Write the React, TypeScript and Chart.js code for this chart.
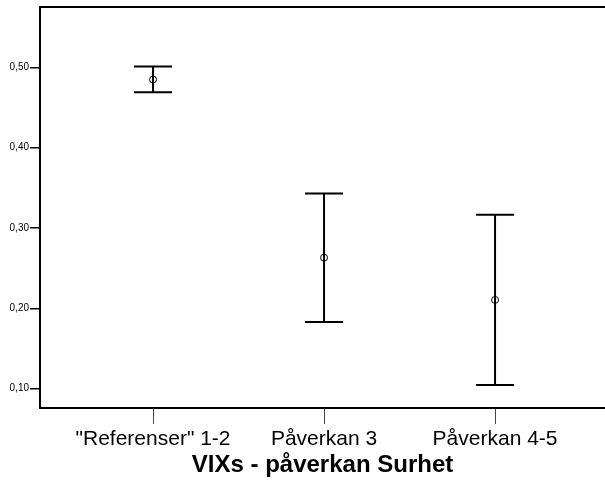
import React, { useEffect, useRef } from "react";
import { Chart, registerables } from "chart.js";

Chart.register(...registerables);

const categories = ['"Referenser" 1-2', "Påverkan 3", "Påverkan 4-5"];
const means = [0.4847, 0.263, 0.2105];
const lowers = [0.469, 0.183, 0.1045];
const uppers = [0.501, 0.343, 0.3166];
const yTicks = [0.1, 0.2, 0.3, 0.4, 0.5];
const xTitle = "VIXs - påverkan Surhet";

const FONT = "Arial, 'Liberation Sans', Helvetica, sans-serif";

export default function App() {
  const ref = useRef<HTMLCanvasElement | null>(null);

  useEffect(() => {
    document.body.style.margin = "0";
    const canvas = ref.current;
    if (!canvas) return;

    const errorBars = {
      id: "errorBars",
      beforeDatasetsDraw(chart: any) {
        const ctx = chart.ctx;
        const xs = chart.scales.x;
        const ys = chart.scales.y;
        ctx.save();
        ctx.strokeStyle = "#000";
        ctx.lineWidth = 2;
        for (let i = 0; i < categories.length; i++) {
          const x = xs.getPixelForValue(i + 1);
          const yl = ys.getPixelForValue(lowers[i]);
          const yu = ys.getPixelForValue(uppers[i]);
          const hw = 19;
          ctx.beginPath();
          ctx.moveTo(x, yl);
          ctx.lineTo(x, yu);
          ctx.moveTo(x - hw, yl);
          ctx.lineTo(x + hw, yl);
          ctx.moveTo(x - hw, yu);
          ctx.lineTo(x + hw, yu);
          ctx.stroke();
        }
        ctx.restore();
      },
      afterDraw(chart: any) {
        const ctx = chart.ctx;
        const a = chart.chartArea;
        ctx.save();
        ctx.strokeStyle = "#000";
        ctx.lineWidth = 2;
        ctx.beginPath();
        ctx.moveTo(a.left - 1, a.top);
        ctx.lineTo(a.right, a.top);
        ctx.stroke();
        ctx.restore();
      },
    };

    const chart = new Chart(canvas, {
      type: "scatter",
      data: {
        datasets: [
          {
            data: means.map((m, i) => ({ x: i + 1, y: m })),
            pointRadius: 3.5,
            pointBorderWidth: 1,
            pointBorderColor: "#000",
            pointBackgroundColor: "rgba(0,0,0,0)",
            showLine: false,
          },
        ],
      },
      options: {
        responsive: false,
        animation: false,
        devicePixelRatio: 1,
        layout: { autoPadding: false, padding: { top: 7, right: -5, left: 0, bottom: 0 } },
        plugins: {
          legend: { display: false },
          tooltip: { enabled: false },
        },
        scales: {
          x: {
            type: "linear",
            min: 0.339,
            max: 3.643,
            afterBuildTicks: (s: any) => {
              s.ticks = categories.map((_, i) => ({ value: i + 1 }));
            },
            afterFit: (s: any) => {
              s.height = 76;
              s.paddingLeft = 0;
              s.paddingRight = 0;
            },
            ticks: {
              callback: (v: any) => categories[Math.round(Number(v)) - 1] ?? "",
              font: { family: FONT, size: 21 },
              color: "#000",
              padding: 3,
              maxRotation: 0,
              autoSkip: false,
            },
            grid: {
              drawOnChartArea: false,
              drawTicks: true,
              tickLength: 16,
              color: "#444",
              lineWidth: 1,
            },
            border: { display: true, color: "#000", width: 2 },
            title: {
              display: true,
              text: xTitle,
              font: { family: FONT, size: 24, weight: "bold" },
              color: "#000",
              padding: { top: 0, bottom: 4 },
            },
          },
          y: {
            type: "linear",
            min: 0.076,
            max: 0.575,
            afterBuildTicks: (s: any) => {
              s.ticks = yTicks.map((v) => ({ value: v }));
            },
            afterFit: (s: any) => {
              s.width = 40;
              s.paddingTop = 0;
              s.paddingBottom = 0;
            },
            ticks: {
              callback: (v: any) => Number(v).toFixed(2).replace(".", ","),
              font: { family: FONT, size: 10 },
              color: "#000",
              padding: 1,
            },
            grid: {
              drawOnChartArea: false,
              drawTicks: true,
              tickLength: 10,
              color: "#000",
              lineWidth: 1.5,
            },
            border: { display: true, color: "#000", width: 2 },
          },
        },
      },
      plugins: [errorBars],
    } as any);

    return () => chart.destroy();
  }, []);

  return <canvas ref={ref} width={605} height={484} style={{ display: "block" }} />;
}
